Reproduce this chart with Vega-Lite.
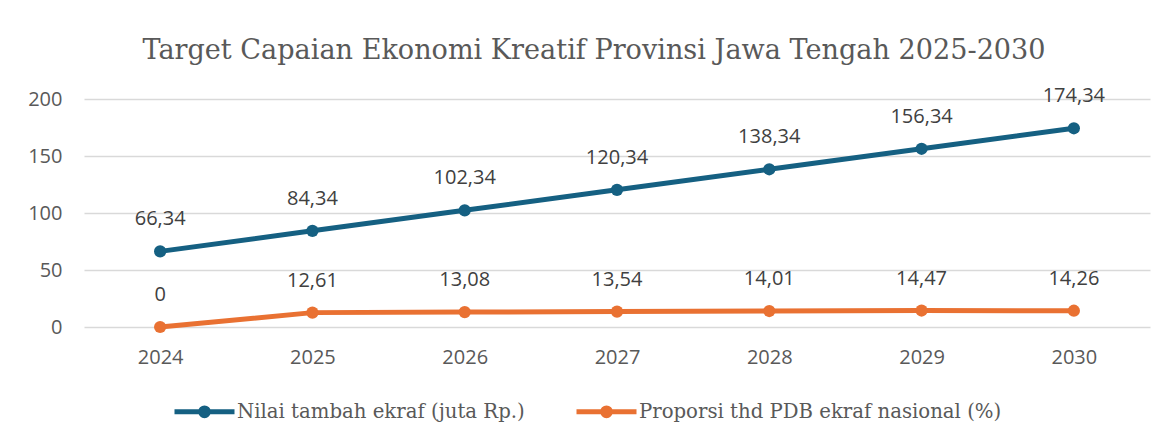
{
  "$schema": "https://vega.github.io/schema/vega-lite/v6.json",
  "width": 1066,
  "height": 228,
  "autosize": {"type": "none"},
  "padding": {"left": 84, "top": 99, "right": 19, "bottom": 109},
  "background": "white",
  "config": {
    "locale": {"number": {"decimal": ",", "thousands": ".", "grouping": [3], "currency": ["Rp", ""]}},
    "view": {"stroke": null}
  },
  "title": {
    "text": "Target Capaian Ekonomi Kreatif Provinsi Jawa Tengah 2025-2030",
    "font": "DejaVu Serif",
    "fontSize": 27.1,
    "fontWeight": "normal",
    "color": "#595959",
    "anchor": "middle",
    "dx": -23,
    "offset": 21
  },
  "data": {
    "values": [
      {"year": "2024", "series": "Nilai tambah ekraf (juta Rp.)", "value": 66.34},
      {"year": "2025", "series": "Nilai tambah ekraf (juta Rp.)", "value": 84.34},
      {"year": "2026", "series": "Nilai tambah ekraf (juta Rp.)", "value": 102.34},
      {"year": "2027", "series": "Nilai tambah ekraf (juta Rp.)", "value": 120.34},
      {"year": "2028", "series": "Nilai tambah ekraf (juta Rp.)", "value": 138.34},
      {"year": "2029", "series": "Nilai tambah ekraf (juta Rp.)", "value": 156.34},
      {"year": "2030", "series": "Nilai tambah ekraf (juta Rp.)", "value": 174.34},
      {"year": "2024", "series": "Proporsi thd PDB ekraf nasional (%)", "value": 0},
      {"year": "2025", "series": "Proporsi thd PDB ekraf nasional (%)", "value": 12.61},
      {"year": "2026", "series": "Proporsi thd PDB ekraf nasional (%)", "value": 13.08},
      {"year": "2027", "series": "Proporsi thd PDB ekraf nasional (%)", "value": 13.54},
      {"year": "2028", "series": "Proporsi thd PDB ekraf nasional (%)", "value": 14.01},
      {"year": "2029", "series": "Proporsi thd PDB ekraf nasional (%)", "value": 14.47},
      {"year": "2030", "series": "Proporsi thd PDB ekraf nasional (%)", "value": 14.26}
    ]
  },
  "encoding": {
    "x": {
      "field": "year",
      "type": "ordinal",
      "scale": {"type": "point", "padding": 0.5},
      "axis": {
        "title": null,
        "labelAngle": 0,
        "labelFont": "Open Sans",
        "labelFontSize": 20,
        "labelColor": "#595959",
        "ticks": false,
        "domain": false,
        "grid": false,
        "labelPadding": 20
      }
    },
    "y": {
      "field": "value",
      "type": "quantitative",
      "scale": {"domain": [0, 200], "nice": false},
      "axis": {
        "title": null,
        "values": [0, 50, 100, 150, 200],
        "labelFont": "Open Sans",
        "labelFontSize": 20,
        "labelColor": "#595959",
        "ticks": false,
        "domain": false,
        "grid": true,
        "gridColor": "#D9D9D9",
        "gridWidth": 1.5,
        "labelPadding": 22
      }
    }
  },
  "layer": [
    {
      "mark": {"type": "line", "strokeWidth": 5, "point": {"filled": true, "size": 150, "opacity": 1}},
      "encoding": {
        "color": {
          "field": "series",
          "type": "nominal",
          "scale": {
            "domain": ["Nilai tambah ekraf (juta Rp.)", "Proporsi thd PDB ekraf nasional (%)"],
            "range": ["#156082", "#E97132"]
          },
          "legend": {
            "orient": "none",
            "legendX": 88,
            "legendY": 280,
            "direction": "horizontal",
            "title": null,
            "padding": 0,
            "symbolType": "M-1,0L1,0M0.13,0A0.13,0.13,0,1,1,-0.13,0A0.13,0.13,0,1,1,0.13,0Z",
            "symbolSize": 3600,
            "symbolStrokeWidth": 5,
            "labelFont": "DejaVu Serif",
            "labelFontSize": 19.7,
            "labelColor": "#595959",
            "labelOffset": 0,
            "columnPadding": 41,
            "labelLimit": 500,
            "encode": {
              "symbols": {
                "update": {
                  "fill": {"scale": "color", "field": "value"},
                  "stroke": {"scale": "color", "field": "value"},
                  "opacity": {"value": 1}
                }
              }
            }
          }
        }
      }
    },
    {
      "mark": {"type": "text", "dy": -32, "font": "Open Sans", "fontSize": 20, "color": "#404040"},
      "encoding": {
        "text": {"field": "value", "type": "quantitative", "format": "~f"},
        "detail": {"field": "series"}
      }
    }
  ]
}
